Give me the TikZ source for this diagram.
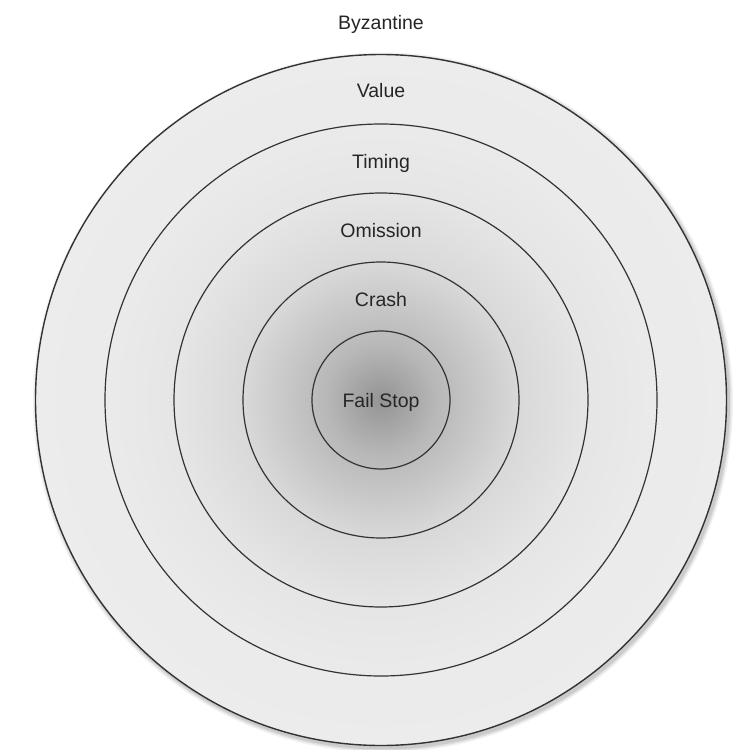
\documentclass[tikz,border=0pt]{standalone}
\usepackage{fontspec}
\setmainfont{Liberation Sans}
\pgfdeclareradialshading{ringshade}{\pgfpoint{0bp}{0bp}}{%
  color(0bp)=(black!42); color(4bp)=(black!28); color(10bp)=(black!15);
  color(15bp)=(black!10); color(20bp)=(black!8); color(30bp)=(black!7);
  color(50bp)=(black!7)}
\begin{document}
\begin{tikzpicture}[x=1pt,y=-1pt,
  ring/.style={circle, draw=black!80, line width=1.2pt, inner sep=0pt, minimum size=#1},
  lbl/.style={anchor=base, text=black!85, font=\fontsize{19.5}{23}\selectfont}]
\useasboundingbox (0,0) rectangle (746,750);
\fill[white] (0,0) rectangle (746,750);
% soft shadow of the outer disk
\foreach \r/\o in {350/0.05,348.5/0.07,347/0.09}
  \fill[black, opacity=\o] (383,402.5) circle[radius=\r];
% shaded disk and rings
\node[ring=691pt, shading=ringshade, line width=1.4pt] (c5) at (381,400) {};
\node[ring=552pt] (c4) at (381,400) {};
\node[ring=414pt] (c3) at (381,400) {};
\node[ring=276pt] (c2) at (381,400) {};
\node[ring=138pt] (c1) at (381,400) {};
% labels
\node[lbl] (byz) at (381,29) {Byzantine};
\node[lbl] (val) at (381,97) {Value};
\node[lbl] (tim) at (381,168) {Timing};
\node[lbl] (omi) at (381,237) {Omission};
\node[lbl] (cra) at (381,306) {Crash};
\node[lbl] (fai) at (381,407) {Fail Stop};
\end{tikzpicture}
\end{document}
